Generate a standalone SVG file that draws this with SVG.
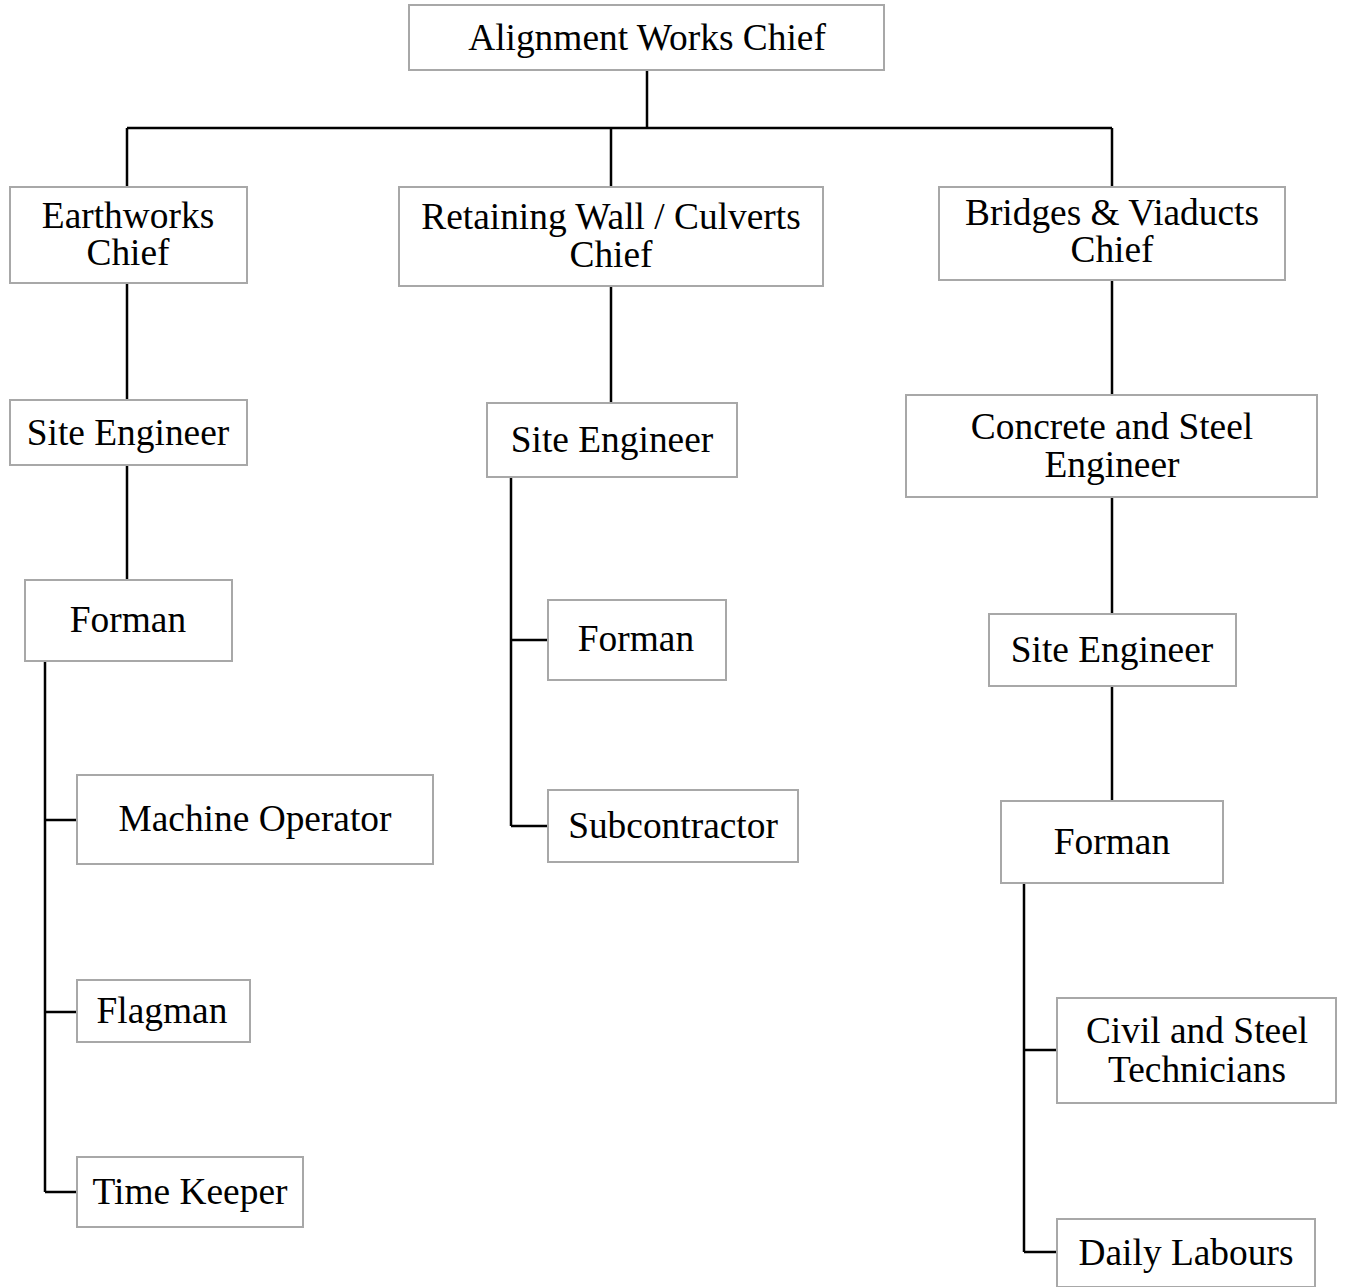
<svg xmlns="http://www.w3.org/2000/svg" width="1345" height="1287" viewBox="0 0 1345 1287">
<style>
.box{fill:#fff;stroke:#a8a8a8;stroke-width:2}
.t{font-family:"Liberation Serif","Times New Roman",serif;font-size:37.4px;fill:#000;text-anchor:middle}
.c{fill:none;stroke:#000;stroke-width:2.5}
</style>
<rect width="1345" height="1287" fill="#fff"/>
<g id="connectors">
<path class="c" d="M647 70V128M127 128H1112M127 128V187M611 128V187M1112 128V187"/>
<path class="c" d="M127 283V400M127 465V580"/>
<path class="c" d="M45 661V1192M45 820H77M45 1012H77M45 1192H77"/>
<path class="c" d="M611 286V403M511 477V826M511 640H548M511 826H548"/>
<path class="c" d="M1112 280V395M1112 497V614M1112 686V801"/>
<path class="c" d="M1024 883V1252M1024 1050H1057M1024 1252H1057"/>
</g>
<g id="n-alignment"><rect class="box" x="409" y="5" width="475" height="65"/><text class="t" x="647" y="50">Alignment Works Chief</text></g>
<g id="n-earthworks"><rect class="box" x="10" y="187" width="237" height="96"/><text class="t" x="128" y="228">Earthworks</text><text class="t" x="128" y="265">Chief</text></g>
<g id="n-retaining"><rect class="box" x="399" y="187" width="424" height="99"/><text class="t" x="611" y="229">Retaining Wall / Culverts</text><text class="t" x="611" y="267">Chief</text></g>
<g id="n-bridges"><rect class="box" x="939" y="187" width="346" height="93"/><text class="t" x="1112" y="225">Bridges &amp; Viaducts</text><text class="t" x="1112" y="262">Chief</text></g>
<g id="n-site1"><rect class="box" x="10" y="400" width="237" height="65"/><text class="t" x="128" y="445">Site Engineer</text></g>
<g id="n-forman1"><rect class="box" x="25" y="580" width="207" height="81"/><text class="t" x="128" y="632">Forman</text></g>
<g id="n-machine"><rect class="box" x="77" y="775" width="356" height="89"/><text class="t" x="255" y="831">Machine Operator</text></g>
<g id="n-flagman"><rect class="box" x="77" y="980" width="173" height="62"/><text class="t" x="162" y="1023">Flagman</text></g>
<g id="n-timekeeper"><rect class="box" x="77" y="1157" width="226" height="70"/><text class="t" x="190" y="1204">Time Keeper</text></g>
<g id="n-site2"><rect class="box" x="487" y="403" width="250" height="74"/><text class="t" x="612" y="452">Site Engineer</text></g>
<g id="n-forman2"><rect class="box" x="548" y="600" width="178" height="80"/><text class="t" x="636" y="651">Forman</text></g>
<g id="n-subcontractor"><rect class="box" x="548" y="790" width="250" height="72"/><text class="t" x="673" y="838">Subcontractor</text></g>
<g id="n-concrete"><rect class="box" x="906" y="395" width="411" height="102"/><text class="t" x="1112" y="439">Concrete and Steel</text><text class="t" x="1112" y="477">Engineer</text></g>
<g id="n-site3"><rect class="box" x="989" y="614" width="247" height="72"/><text class="t" x="1112" y="662">Site Engineer</text></g>
<g id="n-forman3"><rect class="box" x="1001" y="801" width="222" height="82"/><text class="t" x="1112" y="854">Forman</text></g>
<g id="n-civil"><rect class="box" x="1057" y="998" width="279" height="105"/><text class="t" x="1197" y="1043">Civil and Steel</text><text class="t" x="1197" y="1082">Technicians</text></g>
<g id="n-daily"><rect class="box" x="1057" y="1219" width="258" height="68"/><text class="t" x="1186" y="1265">Daily Labours</text></g>
</svg>
